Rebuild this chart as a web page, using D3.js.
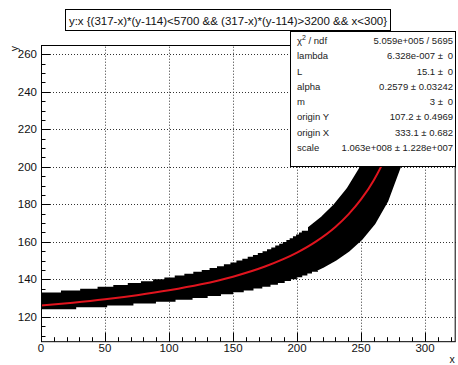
<!DOCTYPE html>
<html>
<head>
<meta charset="utf-8">
<script src="https://cdn.jsdelivr.net/npm/d3@7"></script>
<style>
  html, body { margin: 0; padding: 0; background: #fff; }
  svg { display: block; font-family: "Liberation Sans", Arial, Helvetica, sans-serif; }
</style>
</head>
<body>
<svg id="chart" width="458" height="365"></svg>
<script>
// Selected band: integer y levels of the upper and lower boundary, with the x where each level starts
const upperStepX = [0, 0.33, 17.0, 32.0, 45.6, 57.9, 69.2, 79.5, 89.0, 97.8, 105.9, 113.4, 120.4, 127.0, 133.1, 138.9,
  144.3, 149.4, 154.1, 158.7, 162.9, 167.0, 170.8, 174.5, 178.0, 181.3, 184.4, 187.5, 190.3, 193.1, 195.7, 198.25, 200.7, 203.0, 205.2];
const upperStepY = [131, 132, 133, 134, 135, 136, 137, 138, 139, 140, 141, 142, 143, 144, 145, 146,
  147, 148, 149, 150, 151, 152, 153, 154, 155, 156, 157, 158, 159, 160, 161, 162, 163, 164, 165];
// Steep part of the upper boundary
const upperTailX = [210, 220, 230, 240, 250, 260, 265, 270, 275, 279.25, 284];
const upperTailY = [167.3, 172.8, 179.5, 188.0, 199.1, 214.0, 223.6, 235.3, 249.7, 265, 284];

const lowerStepX = [0, 26.1, 50.3, 70.8, 88.4, 103.7, 117.0, 128.8, 139.2, 148.6, 157.0, 164.6, 171.5, 177.9, 183.7,
  189.0, 193.9, 198.5, 202.7, 206.7, 210.3];
const lowerStepY = [125, 126, 127, 128, 129, 130, 131, 132, 133, 134, 135, 136, 137, 138, 139,
  140, 141, 142, 143, 144, 145];
const lowerTailX = [215, 220, 230, 240, 250, 260, 270, 280, 285, 290, 293, 295.8, 300];
const lowerTailY = [145.4, 147.0, 150.8, 155.6, 161.8, 170.1, 182.1, 200.5, 214.0, 232.5, 247.3, 265, 302];

// Fitted curve
const fitX = [0, 25, 50, 75, 100, 125, 150, 175, 200, 215, 230, 240, 250, 260, 270, 280, 290, 295];
const fitY = [126.0, 127.5, 129.3, 131.5, 134.1, 137.3, 141.4, 146.8, 154.2, 160.2, 167.9, 174.5, 182.6, 192.9, 206.4, 225.1, 252.5, 271.6];

// Axes
const xTicks = [0, 50, 100, 150, 200, 250, 300];
const yTicks = [120, 140, 160, 180, 200, 220, 240, 260];
const xMinor = d3.range(0, 330, 10);
const yMinor = d3.range(110, 266, 5);

const titleText = "y:x {(317-x)*(y-114)<5700 && (317-x)*(y-114)>3200 && x<300}";

// Fit statistics
const statLabels = ["χ2 / ndf", "lambda", "L", "alpha", "m", "origin Y", "origin X", "scale"];
const statValues = ["5.059e+005 / 5695", "6.328e-007", "15.1", "0.2579", "3", "107.2", "333.1", "1.063e+008"];
const statErrors = [null, "0", "0", "0.03242", "0", "0.4969", "0.682", "1.228e+007"];

const svg = d3.select("#chart");
const frame = { left: 41, top: 45, right: 455.7, bottom: 341.7 };

const x = d3.scaleLinear().domain([0, 324]).range([frame.left, frame.right]);
const y = d3.scaleLinear().domain([106.7, 265]).range([frame.bottom, frame.top]);

svg.append("defs").append("clipPath").attr("id", "frameClip")
  .append("rect")
  .attr("x", frame.left).attr("y", frame.top)
  .attr("width", frame.right - frame.left).attr("height", frame.bottom - frame.top);

// Grid
const grid = svg.append("g").attr("stroke", "#333").attr("stroke-width", 1).attr("stroke-dasharray", "1,2");
grid.selectAll("line.gx").data(xTicks.filter(d => d > 0)).join("line")
  .attr("x1", d => Math.round(x(d)) + 0.5).attr("x2", d => Math.round(x(d)) + 0.5)
  .attr("y1", frame.bottom).attr("y2", frame.top);
grid.selectAll("line.gy").data(yTicks).join("line")
  .attr("y1", d => Math.round(y(d)) + 0.5).attr("y2", d => Math.round(y(d)) + 0.5)
  .attr("x1", frame.left).attr("x2", frame.right);

// Band outline built from the step levels
function stepPoints(xs, ys, tailX, tailY) {
  const pts = [];
  for (let i = 0; i < xs.length; i++) {
    const xEnd = i + 1 < xs.length ? xs[i + 1] : tailX[0];
    pts.push([xs[i], ys[i]], [xEnd, ys[i]]);
  }
  tailX.forEach((v, i) => pts.push([v, tailY[i]]));
  return pts;
}
const upperPts = stepPoints(upperStepX, upperStepY, upperTailX, upperTailY);
const lowerPts = stepPoints(lowerStepX, lowerStepY, lowerTailX, lowerTailY);
const bandPts = upperPts.concat(lowerPts.slice().reverse());

const line = d3.line().x(d => x(d[0])).y(d => y(d[1]));

const plot = svg.append("g").attr("clip-path", "url(#frameClip)");
plot.append("path")
  .attr("d", line(bandPts) + "Z")
  .attr("fill", "#000").attr("stroke", "#000").attr("stroke-width", 3.6)
  .attr("stroke-linejoin", "miter");

plot.append("path")
  .datum(fitX.map((v, i) => [v, fitY[i]]))
  .attr("d", d3.line().x(d => x(d[0])).y(d => y(d[1])).curve(d3.curveMonotoneX))
  .attr("fill", "none").attr("stroke", "#e0141e").attr("stroke-width", 2);

// Axes (ticks point into the frame)
const axes = svg.append("g").attr("stroke", "#000").attr("stroke-width", 1);
axes.append("line").attr("x1", frame.left).attr("x2", frame.right)
  .attr("y1", frame.bottom).attr("y2", frame.bottom);
axes.append("line").attr("x1", frame.left + 0.5).attr("x2", frame.left + 0.5)
  .attr("y1", frame.top).attr("y2", frame.bottom);
axes.append("line").attr("x1", frame.left).attr("x2", frame.right)
  .attr("y1", frame.top + 0.5).attr("y2", frame.top + 0.5);
axes.append("line").attr("x1", frame.right - 0.5).attr("x2", frame.right - 0.5)
  .attr("y1", frame.top).attr("y2", frame.bottom);

axes.selectAll("line.xt").data(xMinor).join("line")
  .attr("x1", d => Math.round(x(d)) + 0.5).attr("x2", d => Math.round(x(d)) + 0.5)
  .attr("y1", frame.bottom)
  .attr("y2", d => frame.bottom - (xTicks.includes(d) ? 9 : 4.5));
axes.selectAll("line.yt").data(yMinor).join("line")
  .attr("y1", d => Math.round(y(d)) + 0.5).attr("y2", d => Math.round(y(d)) + 0.5)
  .attr("x1", frame.left)
  .attr("x2", d => frame.left + (yTicks.includes(d) ? 9 : 4.5));

const labels = svg.append("g").attr("fill", "#111").attr("font-size", 11.5);
labels.selectAll("text.xl").data(xTicks).join("text")
  .attr("x", d => x(d)).attr("y", 352).attr("text-anchor", "middle").text(d => d);
labels.selectAll("text.yl").data(yTicks).join("text")
  .attr("x", 37).attr("y", d => y(d) + 4).attr("text-anchor", "end").text(d => d);

// Axis titles
svg.append("text").attr("x", frame.right - 1).attr("y", 363).attr("text-anchor", "end")
  .attr("font-size", 10.5).attr("fill", "#111").text("x");
svg.append("text").attr("transform", `translate(18,${frame.top + 1}) rotate(-90)`)
  .attr("text-anchor", "end").attr("font-size", 10.5).attr("fill", "#111").text("y");

// Title box
svg.append("rect").attr("x", 65.5).attr("y", 9.5).attr("width", 325).attr("height", 21)
  .attr("fill", "#fff").attr("stroke", "#000");
svg.append("text").attr("x", 228).attr("y", 24.5).attr("text-anchor", "middle")
  .attr("font-size", 11.5).attr("fill", "#111").text(titleText);

// Statistics box
const sb = { x: 290.5, y: 31.5, w: 165, h: 135 };
svg.append("rect").attr("x", sb.x).attr("y", sb.y).attr("width", sb.w).attr("height", sb.h)
  .attr("fill", "#fff").attr("stroke", "#000");
const stats = svg.append("g").attr("font-size", 9.5).attr("fill", "#222");
statLabels.forEach((lab, i) => {
  const by = 44 + i * 15.25;
  const t = stats.append("text").attr("x", 297).attr("y", by);
  if (i === 0) {
    t.append("tspan").text("χ");
    t.append("tspan").attr("dy", -4).attr("font-size", 7).text("2");
    t.append("tspan").attr("dy", 4).text(" / ndf");
  } else {
    t.text(lab);
  }
  const err = statErrors[i];
  if (err === null) {
    stats.append("text").attr("x", 453).attr("y", by).attr("text-anchor", "end").text(statValues[i]);
  } else if (err === "0") {
    stats.append("text").attr("x", 443).attr("y", by).attr("text-anchor", "end").text(statValues[i] + " ±");
    stats.append("text").attr("x", 453).attr("y", by).attr("text-anchor", "end").text(err);
  } else {
    stats.append("text").attr("x", 453).attr("y", by).attr("text-anchor", "end")
      .text(statValues[i] + " ± " + err);
  }
});
</script>
</body>
</html>
